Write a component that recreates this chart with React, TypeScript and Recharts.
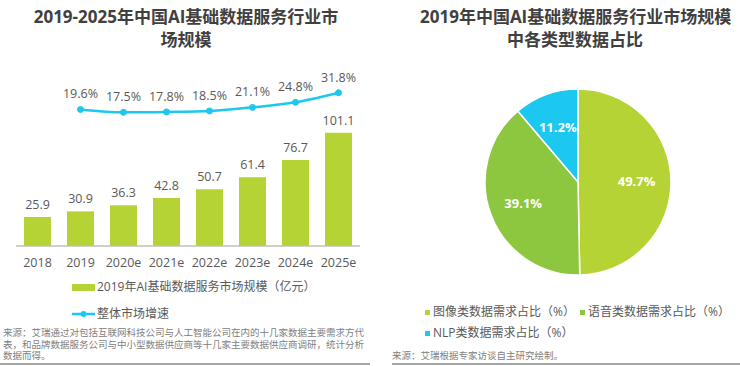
import React from "react";
import { ComposedChart, Bar, Line, XAxis, YAxis, LabelList, PieChart, Pie, Cell } from "recharts";

const years = ["2018", "2019", "2020e", "2021e", "2022e", "2023e", "2024e", "2025e"];
const marketSize = [25.9, 30.9, 36.3, 42.8, 50.7, 61.4, 76.7, 101.1];
const growth: (number | null)[] = [null, 19.6, 17.5, 17.8, 18.5, 21.1, 24.8, 31.8];

const pieNames = ["图像类数据需求占比（%）", "语音类数据需求占比（%）", "NLP类数据需求占比（%）"];
const pieValues = [49.7, 39.1, 11.2];
const pieColors = ["#B5D334", "#8DC63F", "#1CC7F0"];

const barName = "2019年AI基础数据服务市场规模（亿元）";
const lineName = "整体市场增速";
const leftTitle = ["2019-2025年中国AI基础数据服务行业市", "场规模"];
const rightTitle = ["2019年中国AI基础数据服务行业市场规模", "中各类型数据占比"];
const leftSource = [
  "来源：艾瑞通过对包括互联网科技公司与人工智能公司在内的十几家数据主要需求方代",
  "表，和品牌数据服务公司与中小型数据供应商等十几家主要数据供应商调研，统计分析",
  "数据而得。",
];
const rightSource = "来源：艾瑞根据专家访谈自主研究绘制。";

const FONT = "'Open Sans', 'Noto Sans CJK SC', sans-serif";
const BAR_COLOR = "#B5D334";
const LINE_COLOR = "#1CC7F0";
const TEXT = "#595959";

const barData = years.map((y, i) => ({ year: y, size: marketSize[i], growth: growth[i] }));
const pieData = pieNames.map((n, i) => ({ name: n, value: pieValues[i] }));

const RAD = Math.PI / 180;
const renderPieLabel = (props: any) => {
  const { cx, cy, midAngle, outerRadius, value } = props;
  const r = outerRadius * 0.63;
  const x = cx + r * Math.cos(-midAngle * RAD);
  const y = cy + r * Math.sin(-midAngle * RAD);
  return (
    <text x={x} y={y} fill="#fff" textAnchor="middle" dominantBaseline="central" fontSize={13} fontWeight="bold" fontFamily={FONT}>
      {`${value}%`}
    </text>
  );
};

const titleStyle: React.CSSProperties = {
  position: "absolute",
  fontFamily: FONT,
  fontWeight: "bold",
  fontSize: 17,
  color: "#404040",
  textAlign: "center",
  lineHeight: "23px",
  whiteSpace: "nowrap",
};

export default function App() {
  return (
    <div style={{ position: "fixed", left: 0, top: 0, width: 740, height: 366, background: "#fff", overflow: "hidden", fontFamily: FONT }}>
      {/* Left title */}
      <div style={{ ...titleStyle, left: 0, top: 5, width: 372 }}>
        {leftTitle[0]}
        <br />
        {leftTitle[1]}
      </div>
      {/* Right title */}
      <div style={{ ...titleStyle, left: 420, top: 5, width: 310 }}>
        {rightTitle[0]}
        <br />
        {rightTitle[1]}
      </div>

      <div style={{ position: "absolute", left: 0, top: 0 }}>
        <ComposedChart width={370} height={270} data={barData} margin={{ top: 60, right: 10, left: 16, bottom: 0 }}>
          <XAxis
            dataKey="year"
            height={24}
            tickLine={false}
            tickMargin={6}
            axisLine={{ stroke: "#BFBFBF", strokeWidth: 1.5 }}
            tick={{ fill: TEXT, fontSize: 12.5, fontFamily: FONT }}
            interval={0}
          />
          <YAxis yAxisId="bar" hide domain={[0, 166]} />
          <YAxis yAxisId="line" hide domain={[-80.1, 55.7]} />
          <Bar yAxisId="bar" dataKey="size" name={barName} fill={BAR_COLOR} barSize={27} isAnimationActive={false}>
            <LabelList dataKey="size" position="top" offset={8} fill={TEXT} fontSize={12.5} fontFamily={FONT} />
          </Bar>
          <Line
            yAxisId="line"
            dataKey="growth"
            name={lineName}
            type="monotone"
            stroke={LINE_COLOR}
            strokeWidth={2.5}
            dot={{ r: 3, fill: LINE_COLOR, stroke: LINE_COLOR, strokeWidth: 1 }}
            isAnimationActive={false}
          >
            <LabelList dataKey="growth" position="top" offset={11} fill={TEXT} fontSize={12.5} fontFamily={FONT} formatter={(v: any) => (v == null ? "" : `${v}%`)} />
          </Line>
        </ComposedChart>
      </div>

      {/* Left legend */}
      <div style={{ position: "absolute", left: 72, top: 279, fontSize: 12, color: TEXT, lineHeight: "16px", whiteSpace: "nowrap" }}>
        <div style={{ display: "flex", alignItems: "center" }}>
          <span style={{ display: "inline-block", width: 23, height: 7, background: BAR_COLOR, marginRight: 2 }} />
          <span>{barName}</span>
        </div>
        <div style={{ display: "flex", alignItems: "center", marginTop: 11 }}>
          <svg width={23} height={8} style={{ marginRight: 2 }}>
            <line x1={0} y1={4} x2={23} y2={4} stroke={LINE_COLOR} strokeWidth={2.5} />
            <circle cx={11.5} cy={4} r={3} fill={LINE_COLOR} />
          </svg>
          <span>{lineName}</span>
        </div>
      </div>

      {/* Left source */}
      <div style={{ position: "absolute", left: 3, top: 327, fontSize: 9.5, color: "#808080", lineHeight: "11.5px", whiteSpace: "nowrap" }}>
        {leftSource.map((l, i) => (
          <div key={i}>{l}</div>
        ))}
      </div>
      <div style={{ position: "absolute", left: 0, top: 363, width: 370, height: 2, background: "#A6A6A6" }} />

      {/* Pie */}
      <div style={{ position: "absolute", left: 370, top: 0 }}>
        <PieChart width={370} height={290}>
          <Pie
            data={pieData}
            dataKey="value"
            nameKey="name"
            cx={203}
            cy={177}
            outerRadius={93}
            startAngle={90}
            endAngle={-270}
            stroke="#fff"
            strokeWidth={1.5}
            label={renderPieLabel}
            labelLine={false}
            isAnimationActive={false}
          >
            {pieData.map((d, i) => (
              <Cell key={d.name} fill={pieColors[i]} />
            ))}
          </Pie>
        </PieChart>
      </div>

      {/* Right legend */}
      <div style={{ position: "absolute", left: 425, top: 302, fontSize: 12, color: TEXT, lineHeight: "20px", whiteSpace: "nowrap", width: 315 }}>
        <div style={{ display: "flex", flexWrap: "wrap" }}>
          {pieData.map((d, i) => (
            <div key={d.name} style={{ display: "flex", alignItems: "center", width: i === 0 ? 155 : undefined, height: 20, marginBottom: 1 }}>
              <span style={{ display: "inline-block", width: 5, height: 5, background: pieColors[i], marginRight: 3 }} />
              <span>{d.name}</span>
            </div>
          ))}
        </div>
      </div>

      {/* Right source */}
      <div style={{ position: "absolute", left: 392, top: 350, fontSize: 9.5, color: "#808080", lineHeight: "11.5px", whiteSpace: "nowrap" }}>
        {rightSource}
      </div>
      <div style={{ position: "absolute", left: 392, top: 363, width: 348, height: 2, background: "#A6A6A6" }} />
    </div>
  );
}
